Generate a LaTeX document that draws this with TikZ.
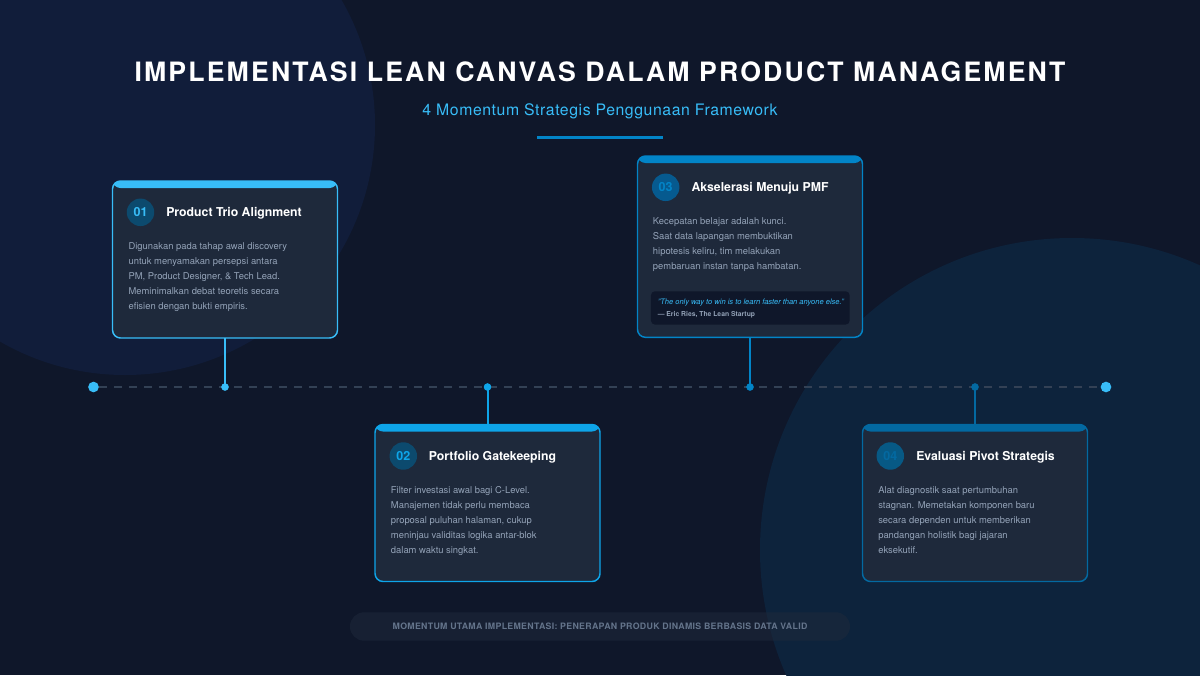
\documentclass[tikz,border=0pt]{standalone}
\usepackage{fontspec}
\setmainfont{TeX Gyre Heros}
\newfontfamily\titlefont[LetterSpace=8]{TeX Gyre Heros}
\newfontfamily\subfont[LetterSpace=3.6]{TeX Gyre Heros}
\newfontfamily\footfont[LetterSpace=3.4]{TeX Gyre Heros}
\definecolor{bgc}{HTML}{0F172A}
\definecolor{circA}{RGB}{17,29,58}
\definecolor{circB}{RGB}{13,35,60}
\definecolor{cardc}{HTML}{1E293B}
\definecolor{accA}{HTML}{38BDF8}
\definecolor{accB}{HTML}{0EA5E9}
\definecolor{accC}{HTML}{0284C7}
\definecolor{accD}{HTML}{0369A1}
\definecolor{numA}{HTML}{0C4A6E}
\definecolor{numB}{HTML}{0C4A6E}
\definecolor{numC}{HTML}{065A8F}
\definecolor{numD}{HTML}{075985}
\definecolor{bodyc}{HTML}{94A3B8}
\definecolor{dashc}{HTML}{334155}
\definecolor{footc}{HTML}{64748B}
\tikzset{
  card/.style={draw=#1, line width=1.1pt, fill=cardc, rounded corners=6pt,
    rectangle, anchor=north west, inner sep=0pt, outer sep=0pt, minimum width=168.75pt,
    path picture={\fill[#1] ([yshift=1pt]path picture bounding box.north west) rectangle ([yshift=-5.25pt]path picture bounding box.north east);}},
  numc/.style 2 args={circle, fill=#1, text=#2, minimum size=20.6pt, inner sep=0pt,
    font=\fontsize{9.4}{11}\selectfont\bfseries},
  ctitle/.style={anchor=base west, inner sep=0pt, text=white,
    font=\fontsize{9.2}{11}\selectfont\bfseries},
  cbody/.style={anchor=base west, inner sep=0pt, text=bodyc,
    font=\fontsize{7.05}{11.25}\selectfont},
  conn/.style={draw=#1, line width=1.5pt},
  tdot/.style={circle, fill=#1, inner sep=0pt, minimum size=5.5pt},
  edot/.style={circle, fill=accA, inner sep=0pt, minimum size=8pt},
}
\begin{document}
\begin{tikzpicture}[x=0.75pt,y=-0.75pt]
\useasboundingbox (0,0) rectangle (1200,675);
\fill[bgc] (0,0) rectangle (1200,675);
\begin{scope}
  \clip (0,0) rectangle (1200,675);
  \fill[circA] (125,125) circle[radius=250];
  \fill[circB] (1072,550) circle[radius=312];
\end{scope}

% title
\node[anchor=base, inner sep=0pt, text=white, font=\titlefont\fontsize{20}{24}\selectfont\bfseries] (title) at (600,81.7) {IMPLEMENTASI LEAN CANVAS DALAM PRODUCT MANAGEMENT};
\node[anchor=base, inner sep=0pt, text=accA, font=\subfont\fontsize{11.85}{14}\selectfont] (subtitle) at (600,115.5) {4 Momentum Strategis Penggunaan Framework};
\fill[accC] (537,135.5) rectangle (663,138.5);

% timeline
\node[edot] (e1) at (93.5,387) {};
\node[edot] (e2) at (1106,387) {};
\draw[dashc, line width=2.2pt, dash pattern=on 6pt off 5.25pt] (e1) -- (e2);

% cards
\node[card=accA, minimum height=117.75pt] (c1) at (112.5,181) {};
\node[card=accB, minimum height=117.75pt] (c2) at (375,424.5) {};
\node[card=accC, minimum height=136pt] (c3) at (637.5,156) {};
\node[card=accD, minimum height=117.75pt] (c4) at (862.5,424.5) {};

% dots on timeline
\node[tdot=accA] (d1) at (225,387) {};
\node[tdot=accB] (d2) at (487.5,387) {};
\node[tdot=accC] (d3) at (750,387) {};
\node[tdot=accD] (d4) at (975,387) {};

\draw[conn=accA] (c1.south) -- (d1.center);
\draw[conn=accB] (d2.center) -- (c2.north);
\draw[conn=accC] (c3.south) -- (d3.center);
\draw[conn=accD] (d4.center) -- (c4.north);
\node[tdot=accA] at (d1) {};
\node[tdot=accB] at (d2) {};
\node[tdot=accC] at (d3) {};
\node[tdot=accD] at (d4) {};

% card 1
\node[numc={numA}{accA}] (n1) at (140.5,212.3) {01};
\node[ctitle] (t1) at (166,216.4) {Product Trio Alignment};
\node[cbody] (b1) at (128.3,249.5) {\parbox[t]{190pt}{\raggedright
Digunakan pada tahap awal discovery\\
untuk menyamakan persepsi antara\\
PM, Product Designer, \& Tech Lead.\\
Meminimalkan debat teoretis secara\\
efisien dengan bukti empiris.}};

% card 2
\node[numc={numB}{accB}] (n2) at (403.3,456) {02};
\node[ctitle] (t2) at (428.7,460.4) {Portfolio Gatekeeping};
\node[cbody] (b2) at (390.7,493.2) {\parbox[t]{190pt}{\raggedright
Filter investasi awal bagi C-Level.\\
Manajemen tidak perlu membaca\\
proposal puluhan halaman, cukup\\
meninjau validitas logika antar-blok\\
dalam waktu singkat.}};

% card 3
\node[numc={numC}{accC}] (n3) at (665.7,187.3) {03};
\node[ctitle] (t3) at (691.3,191.7) {Akselerasi Menuju PMF};
\node[cbody] (b3) at (652.7,224.2) {\parbox[t]{190pt}{\raggedright
Kecepatan belajar adalah kunci.\\
Saat data lapangan membuktikan\\
hipotesis keliru, tim melakukan\\
pembaruan instan tanpa hambatan.}};
\node[fill=bgc, rounded corners=3pt, anchor=north west, inner sep=0pt, minimum width=149pt, minimum height=25pt] (q3) at (650.7,291) {};
\node[anchor=base west, inner sep=0pt, text=accA, font=\fontsize{5.65}{7}\selectfont\itshape] (qt) at (657.5,304.5) {"The only way to win is to learn faster than anyone else."};
\node[anchor=base west, inner sep=0pt, text=bodyc, font=\fontsize{5.1}{6}\selectfont\bfseries] (qa) at (657.5,316.2) {— Eric Ries, The Lean Startup};

% card 4
\node[numc={numD}{accD}] (n4) at (890.3,456) {04};
\node[ctitle] (t4) at (916,460.4) {Evaluasi Pivot Strategis};
\node[cbody] (b4) at (878,493.2) {\parbox[t]{190pt}{\raggedright
Alat diagnostik saat pertumbuhan\\
stagnan. Memetakan komponen baru\\
secara dependen untuk memberikan\\
pandangan holistik bagi jajaran\\
eksekutif.}};

% footer
\node[fill=cardc, fill opacity=0.55, text opacity=1, rounded corners=10.6pt, minimum width=375pt, minimum height=21.3pt, inner sep=0pt, text=footc, font=\footfont\fontsize{6.6}{8}\selectfont\bfseries] (foot) at (600,626.5) {MOMENTUM UTAMA IMPLEMENTASI: PENERAPAN PRODUK DINAMIS BERBASIS DATA VALID};
\end{tikzpicture}
\end{document}
